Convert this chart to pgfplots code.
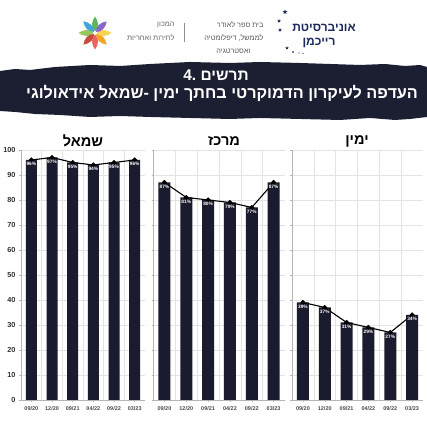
\documentclass[border=0pt]{standalone}
\usepackage{pgfplots}
\pgfplotsset{compat=1.18}
\usepackage{fontspec}
\setmainfont{Liberation Sans}
\newfontfamily\heb[Script=Hebrew]{Liberation Sans}
\TeXXeTstate=1
\usetikzlibrary{shapes.geometric}
\definecolor{navy}{HTML}{1A1B2E}
\definecolor{banner}{HTML}{1C1F31}
\definecolor{uninavy}{HTML}{1F2A5C}
\definecolor{gridc}{HTML}{E3E3E3}
\definecolor{axc}{HTML}{B5B5B5}
\pgfplotsset{panel/.style={
  scale only axis, height=250pt, ymin=0, ymax=100, xmin=-0.5, xmax=5.5,
  ytick={0,10,...,100}, xtick={0,...,5},
  xticklabels={09/20,12/20,09/21,04/22,09/22,03/23},
  ymajorgrids, major grid style={draw=gridc, line width=0.5pt},
  minor xtick={0.5,1.5,2.5,3.5,4.5}, xminorgrids,
  minor grid style={draw=gridc, line width=0.5pt}, minor tick length=0pt,
  axis x line*=bottom, axis y line*=left,
  axis line style={draw=axc, line width=0.7pt},
  tick style={draw=axc, line width=0.5pt}, major tick length=2pt, tick align=outside,
  /pgf/number format/assume math mode=true,
  xticklabel style={font=\bfseries\fontsize{5.5}{6}\selectfont, text=black!70, yshift=-1pt},
  yticklabel style={font=\bfseries\fontsize{7.3}{8}\selectfont, text=black!80},
  clip=false,
}, 
barst/.style={ybar, fill=navy, draw=none},
linest/.style={black, line width=1.1pt, mark=*, mark size=1.9pt,
  nodes near coords={\pgfmathprintnumber{\pgfplotspointmeta}\%},
  nodes near coords style={anchor=north, text=white, font=\bfseries\fontsize{4.8}{5}\selectfont, inner sep=0.5pt, yshift=-1.6pt}},
}
\begin{document}
\begin{tikzpicture}
\begin{scope}[x=1pt,y=1pt]
\useasboundingbox (0,0) rectangle (427,427);
\fill[white] (0,0) rectangle (427,427);
% ---------- header ----------
\begin{scope}[shift={(95,394)}]
\foreach \a/\c in {90/4FAE4A,135/2E9BD6,180/8BC34A,225/C0392B,270/E8554E,315/F39C12,0/F7D046,45/7E57C2}{
  \definecolor{pc}{HTML}{\c}
  \fill[pc, opacity=0.9, rotate=\a] (1.5,0) .. controls (5,4.5) and (12,3.5) .. (16.5,0) .. controls (12,-3.5) and (5,-4.5) .. (1.5,0);
}
\end{scope}
\node[font=\heb\fontsize{7.3}{8}\selectfont, text=black!60, anchor=east] at (178,402) {\beginR המכון\endR};
\node[font=\heb\fontsize{7.3}{8}\selectfont, text=black!60, anchor=east] at (178,389) {\beginR לחירות ואחריות\endR};
\draw[black!45, line width=0.6pt] (184,385) -- (184,404);
\node[font=\heb\fontsize{7.3}{8}\selectfont, text=black!65, anchor=east] at (267,402) {\beginR בית ספר לאודר\endR};
\node[font=\heb\fontsize{7.3}{8}\selectfont, text=black!65, anchor=east] at (267,389) {\beginR לממשל, דיפלומטיה\endR};
\node[font=\heb\fontsize{7.3}{8}\selectfont, text=black!65, anchor=east] at (254,376) {\beginR ואסטרטגיה\endR};
\node[font=\heb\bfseries\fontsize{12}{13}\selectfont, text=uninavy] at (324,399) {\beginR אוניברסיטת\endR};
\node[font=\heb\bfseries\fontsize{12}{13}\selectfont, text=uninavy] at (319,384) {\beginR רייכמן\endR};
\foreach \p/\s in {{(285,415)}/5,{(279,406)}/4,{(280,397)}/4,{(287,379)}/3.5,{(293,375)}/2.5}{
  \node[star, star points=5, star point ratio=2.3, fill=uninavy, minimum size=\s pt, inner sep=0pt] at \p {};
}
\fill[uninavy] (299,374) circle (0.7) (303,373.5) circle (0.6);
% banner
\fill[banner] (0,356) -- (15,358) -- (30,357) -- (55,360) -- (90,362) -- (120,361) -- (150,363) -- (190,365) -- (230,364) -- (260,365) -- (300,364) -- (330,363) -- (360,362) -- (385,363) -- (405,361) -- (420,362) -- (427,360)
 -- (427,310) -- (410,308) -- (395,307) -- (370,309) -- (340,307) -- (300,308) -- (260,309) -- (230,308) -- (190,309) -- (150,310) -- (120,311) -- (90,310) -- (60,312) -- (35,313) -- (15,315) -- (0,316) -- cycle;
\node[font=\heb\bfseries\fontsize{15.5}{16}\selectfont, text=white] at (216,352) {\beginR תרשים \beginL.4\endL\endR};
\node[font=\heb\bfseries\fontsize{16.2}{17}\selectfont, text=white] at (222,333.5) {\beginR העדפה לעיקרון הדמוקרטי בחתך ימין -שמאל אידאולוגי\endR};
% panel titles
\node[font=\heb\bfseries\fontsize{14.5}{15}\selectfont] at (83,286) {\beginR שמאל\endR};
\node[font=\heb\bfseries\fontsize{14.5}{15}\selectfont] at (224,286) {\beginR מרכז\endR};
\node[font=\heb\bfseries\fontsize{14.5}{15}\selectfont] at (357,286) {\beginR ימין\endR};
\end{scope}
% ---------- panels ----------
\begin{axis}[panel, at={(21pt,27pt)}, anchor=south west, width=124pt]
\addplot[barst, bar width=11pt] coordinates {(0,96) (1,97) (2,95) (3,94) (4,95) (5,96)};
\addplot[linest] coordinates {(0,96) (1,97) (2,95) (3,94) (4,95) (5,96)};
\end{axis}
\begin{axis}[panel, at={(153.5pt,27pt)}, anchor=south west, width=131pt, yticklabels={}]
\addplot[barst, bar width=12pt] coordinates {(0,87) (1,81) (2,80) (3,79) (4,77) (5,87)};
\addplot[linest] coordinates {(0,87) (1,81) (2,80) (3,79) (4,77) (5,87)};
\end{axis}
\begin{axis}[panel, at={(292pt,27pt)}, anchor=south west, width=131pt, yticklabels={}]
\addplot[barst, bar width=12pt] coordinates {(0,39) (1,37) (2,31) (3,29) (4,27) (5,34)};
\addplot[linest] coordinates {(0,39) (1,37) (2,31) (3,29) (4,27) (5,34)};
\end{axis}
\end{tikzpicture}
\end{document}
